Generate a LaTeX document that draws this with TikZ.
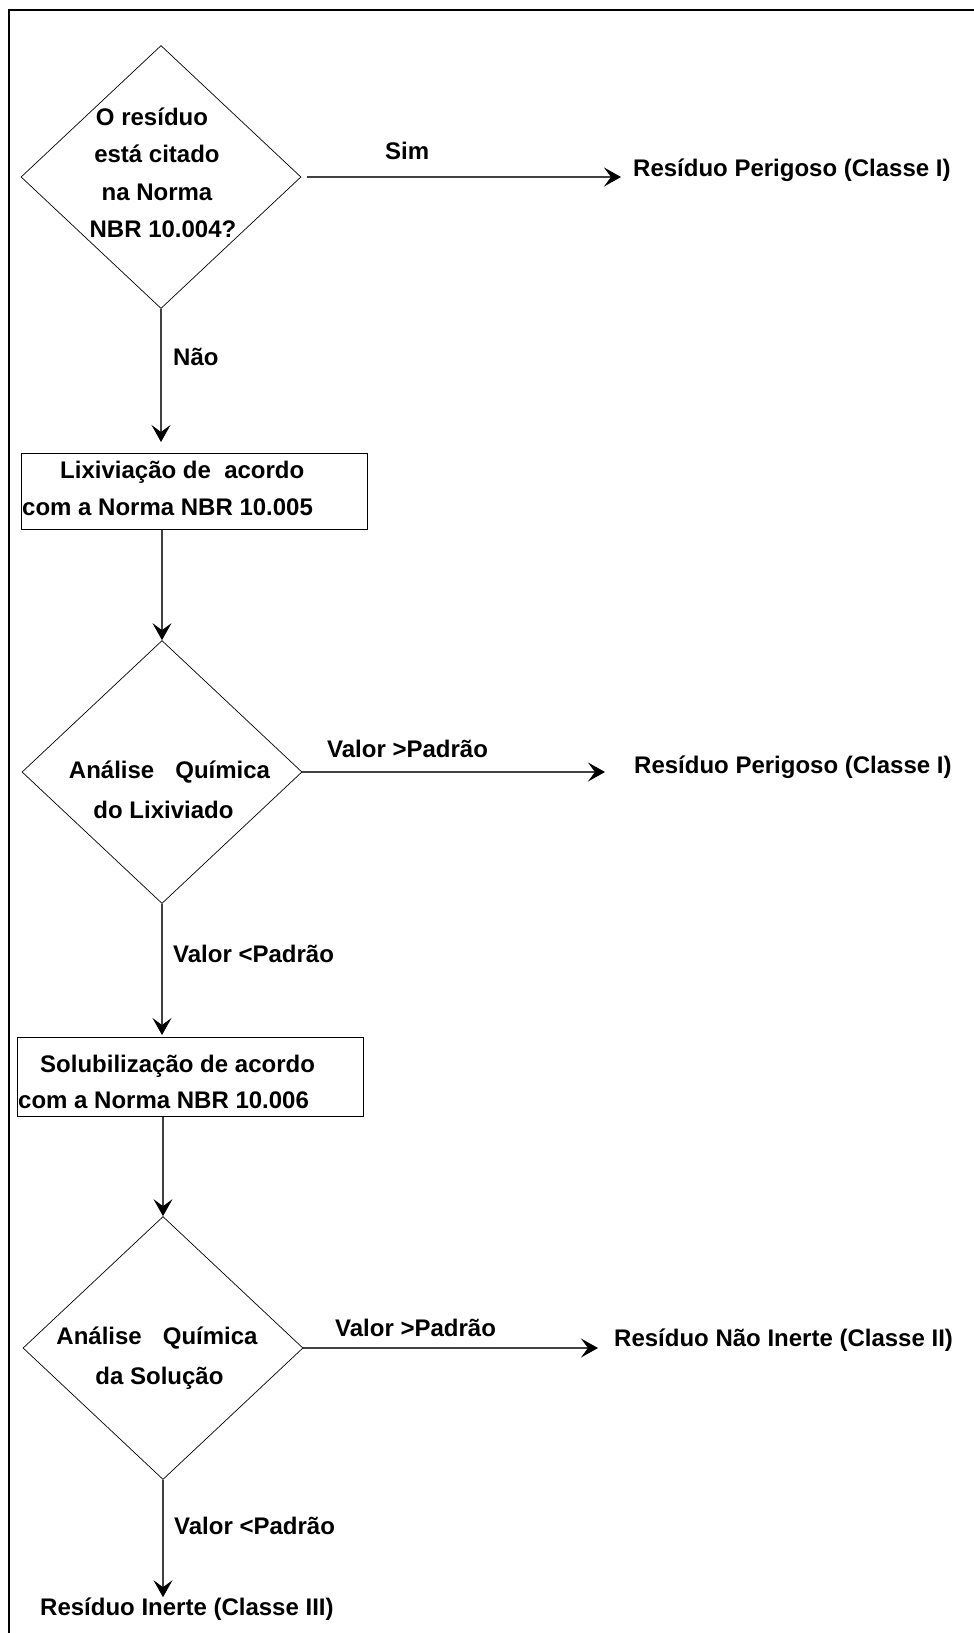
\documentclass[tikz,border=0pt]{standalone}
\usepackage{fontspec}
\setmainfont{Liberation Sans}
\usetikzlibrary{shapes.geometric,arrows.meta,calc}
\begin{document}
\begin{tikzpicture}[x=1pt,y=-1pt,
  txt/.style={font=\fontsize{24}{28}\selectfont\bfseries, inner sep=0pt, anchor=base west},
  ctxt/.style={font=\fontsize{24}{28}\selectfont\bfseries, inner sep=0pt, anchor=base},
  dia/.style={draw, diamond, minimum width=280pt, minimum height=263pt, inner sep=0pt, line width=0.7pt},
  boxst/.style={draw, rectangle, anchor=north west, inner sep=0pt, line width=0.9pt},
  conn/.style={draw=black!75, line width=1.1pt, -{Stealth[length=17pt,width=19pt,inset=7pt,color=black]}},
  frame/.style={line width=2.4pt}]
\fill[white] (0,0) rectangle (974,1633);
\useasboundingbox (0,0) rectangle (974,1633);
\draw[frame] (9,1633) -- (9,10) -- (974,10);

% shapes
\node[dia] (d1) at (161,177) {};
\node[dia] (d2) at (162,772) {};
\node[dia] (d3) at (163,1348) {};
\node[boxst, minimum width=346pt, minimum height=76pt] (b1) at (21,453) {};
\node[boxst, minimum width=346pt, minimum height=79pt] (b2) at (17,1037) {};

% texts in shapes
\node[ctxt] (d1t1) at (152,125) {O resíduo};
\node[ctxt] (d1t2) at (157,162.5) {está citado};
\node[ctxt] (d1t3) at (157,200) {na Norma};
\node[ctxt] (d1t4) at (163,237) {NBR 10.004?};
\node[ctxt] (d2t1) at (169.5,778) {Análise\hspace{21pt}Química};
\node[ctxt] (d2t2) at (163.5,818) {do Lixiviado};
\node[ctxt] (d3t1) at (157,1344) {Análise\hspace{21pt}Química};
\node[ctxt] (d3t2) at (159.5,1384) {da Solução};
\node[txt] (b1t1) at (60,478) {Lixiviação de\ \ acordo};
\node[txt] (b1t2) at (22,515) {com a Norma NBR 10.005};
\node[txt] (b2t1) at (40,1072) {Solubilização de acordo};
\node[txt] (b2t2) at (18,1108) {com a Norma NBR 10.006};

% outcomes
\node[txt] (r1) at (633,176) {Resíduo Perigoso (Classe I)};
\node[txt] (r2) at (634,773) {Resíduo Perigoso (Classe I)};
\node[txt] (r3) at (614,1346) {Resíduo Não Inerte (Classe II)};
\node[txt] (r4) at (40,1615) {Resíduo Inerte (Classe III)};

% edge labels
\node[txt] (lsim) at (385,159) {Sim};
\node[txt] (lnao) at (173,365) {Não};
\node[txt] (lv1) at (327,757) {Valor >Padrão};
\node[txt] (lv2) at (173,962) {Valor <Padrão};
\node[txt] (lv3) at (335,1336) {Valor >Padrão};
\node[txt] (lv4) at (174,1534) {Valor <Padrão};

% connectors
\draw[conn] ($(d1.east)+(6,0)$) -- ($(d1.east -| r1.west)+(-12,0)$);
\draw[conn] (d2.east) -- ($(d2.east -| r2.west)+(-29,0)$);
\draw[conn] (d3.east) -- ($(d3.east -| r3.west)+(-16,0)$);
\draw[conn] (d1.south) -- ($(d1.south |- b1.north)+(0,-11)$);
\draw[conn] (d2.north |- b1.south) -- (d2.north);
\draw[conn] (d2.south) -- ($(d2.south |- b2.north)+(0,-2)$);
\draw[conn] (d3.north |- b2.south) -- (d3.north);
\draw[conn] (d3.south) -- (d3.south |- r4.north);
\end{tikzpicture}
\end{document}
